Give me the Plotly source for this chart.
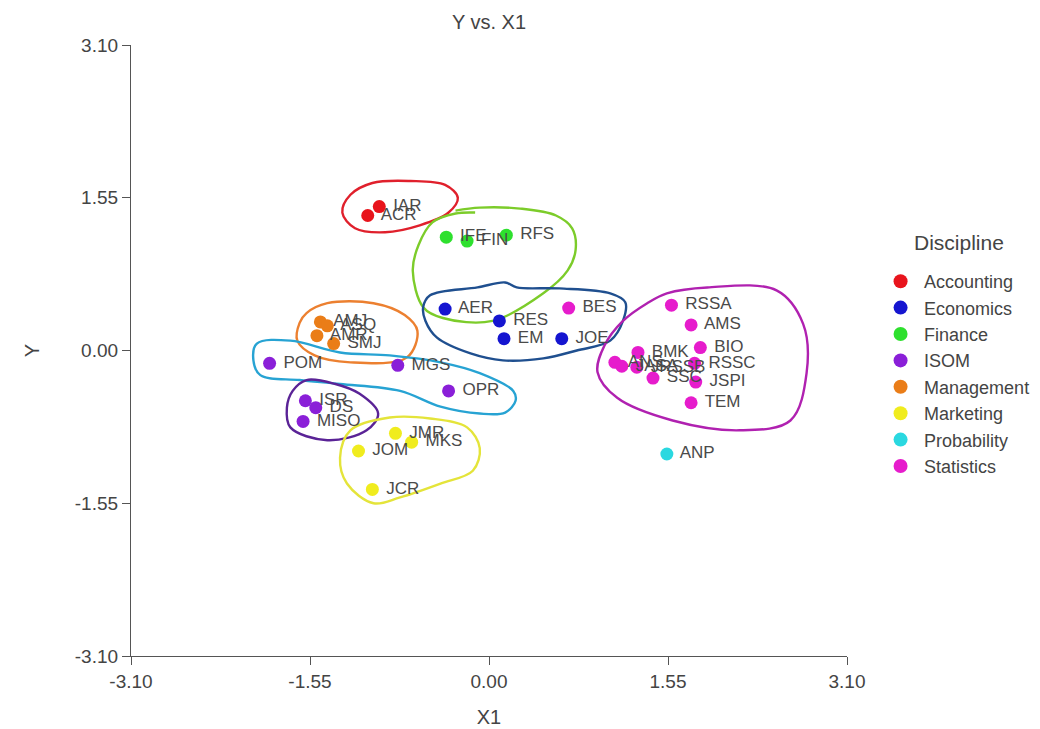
import plotly.graph_objects as go

# ---------------- data ----------------
disciplines = ["Accounting", "Economics", "Finance", "ISOM", "Management",
               "Marketing", "Probability", "Statistics"]
colors = ["#e8141c", "#1515d0", "#2ee02e", "#8a1fd8", "#ea7d18",
          "#f0ec1e", "#2ad8e0", "#e61ccc"]

acc_labels = ["ACR", "IAR"]
acc_x = [-1.05, -0.95]
acc_y = [1.37, 1.46]

eco_labels = ["AER", "RES", "EM", "JOE"]
eco_x = [-0.38, 0.09, 0.13, 0.63]
eco_y = [0.42, 0.30, 0.12, 0.12]

fin_labels = ["IFE", "FIN", "RFS"]
fin_x = [-0.37, -0.19, 0.15]
fin_y = [1.15, 1.11, 1.17]

isom_labels = ["POM", "MGS", "OPR", "ISR", "DS", "MISO"]
isom_x = [-1.90, -0.79, -0.35, -1.59, -1.50, -1.61]
isom_y = [-0.13, -0.15, -0.41, -0.51, -0.58, -0.72]

man_labels = ["AMJ", "ASQ", "AMR", "SMJ"]
man_x = [-1.46, -1.40, -1.49, -1.345]
man_y = [0.29, 0.25, 0.15, 0.07]

mkt_labels = ["JMR", "MKS", "JOM", "JCR"]
mkt_x = [-0.81, -0.67, -1.13, -1.01]
mkt_y = [-0.84, -0.93, -1.02, -1.41]

prob_labels = ["ANP"]
prob_x = [1.54]
prob_y = [-1.05]

stat_labels = ["BES", "RSSA", "AMS", "BIO", "RSSC", "JSPI", "TEM", "BMK",
               "ANS", "JASA", "JRSSB", "SSC"]
stat_x = [0.69, 1.58, 1.75, 1.83, 1.78, 1.79, 1.75, 1.29, 1.09, 1.15, 1.28, 1.42]
stat_y = [0.43, 0.46, 0.26, 0.03, -0.13, -0.32, -0.53, -0.02, -0.12, -0.16, -0.17, -0.28]

groups = [
    (acc_labels, acc_x, acc_y),
    (eco_labels, eco_x, eco_y),
    (fin_labels, fin_x, fin_y),
    (isom_labels, isom_x, isom_y),
    (man_labels, man_x, man_y),
    (mkt_labels, mkt_x, mkt_y),
    (prob_labels, prob_x, prob_y),
    (stat_labels, stat_x, stat_y),
]

# hand-drawn cluster outlines (data units)
red_loop_x = [-1.27, -1.20, -1.01, -0.68, -0.38, -0.27, -0.35, -0.60, -0.90, -1.16, -1.27]
red_loop_y = [1.40, 1.58, 1.70, 1.72, 1.68, 1.55, 1.40, 1.27, 1.20, 1.24, 1.40]

green_loop_x = [-0.12, -0.29, -0.49, -0.61, -0.66, -0.57, -0.40, 0.03, 0.47, 0.68, 0.75, 0.72, 0.58, 0.27, -0.08, -0.29]
green_loop_y = [1.40, 1.39, 1.30, 1.07, 0.81, 0.44, 0.33, 0.30, 0.58, 0.81, 1.02, 1.24, 1.37, 1.44, 1.45, 1.42]

blue_loop_x = [-0.51, -0.10, 0.14, 0.24, 0.61, 1.05, 1.18, 1.16, 1.05, 0.76, 0.47, 0.12, -0.16, -0.45, -0.55, -0.57, -0.51]
blue_loop_y = [0.56, 0.64, 0.69, 0.64, 0.63, 0.58, 0.49, 0.30, 0.10, 0.00, -0.08, -0.10, -0.03, 0.13, 0.30, 0.44, 0.56]

orange_loop_x = [-1.58, -1.40, -1.00, -0.73, -0.62, -0.71, -1.20, -1.51, -1.66, -1.64, -1.58]
orange_loop_y = [0.38, 0.48, 0.48, 0.36, 0.20, -0.07, -0.12, -0.05, 0.10, 0.28, 0.38]

cyan_loop_x = [-2.01, -1.72, -1.29, -0.86, -0.42, -0.08, 0.21, 0.23, 0.14, -0.08, -0.42, -0.77, -1.29, -1.64, -1.98, -2.04, -2.01]
cyan_loop_y = [0.07, 0.10, -0.02, -0.05, -0.12, -0.23, -0.41, -0.51, -0.63, -0.64, -0.57, -0.41, -0.34, -0.30, -0.25, -0.10, 0.07]

purple_loop_x = [-1.70, -1.58, -1.33, -1.12, -0.96, -1.06, -1.40, -1.72, -1.75, -1.70]
purple_loop_y = [-0.41, -0.30, -0.34, -0.44, -0.64, -0.81, -0.91, -0.78, -0.58, -0.41]

yellow_loop_x = [-1.20, -0.86, -0.51, -0.19, -0.08, -0.14, -0.42, -0.77, -1.00, -1.23, -1.29, -1.20]
yellow_loop_y = [-0.81, -0.68, -0.69, -0.78, -0.99, -1.22, -1.35, -1.49, -1.55, -1.35, -1.09, -0.81]

magenta_loop_x = [1.37, 1.54, 1.89, 2.49, 2.72, 2.75, 2.61, 2.17, 1.59, 1.11, 0.94, 1.00, 1.16, 1.37]
magenta_loop_y = [0.48, 0.58, 0.64, 0.61, 0.27, -0.23, -0.71, -0.81, -0.71, -0.48, -0.22, 0.05, 0.30, 0.48]

loops = [
    (red_loop_x, red_loop_y, "#e0202c"),
    (green_loop_x, green_loop_y, "#7ccc2a"),
    (blue_loop_x, blue_loop_y, "#1f4f8f"),
    (orange_loop_x, orange_loop_y, "#ec8030"),
    (cyan_loop_x, cyan_loop_y, "#27a3d3"),
    (purple_loop_x, purple_loop_y, "#5a2396"),
    (yellow_loop_x, yellow_loop_y, "#e4e43a"),
    (magenta_loop_x, magenta_loop_y, "#b021b0"),
]

tick_vals = [-3.10, -1.55, 0.00, 1.55, 3.10]
tick_text = ["-3.10", "-1.55", "0.00", "1.55", "3.10"]

FONT = "Liberation Sans, Arial"
TXT = "#444444"

# ---------------- figure ----------------
fig = go.Figure()

for lx, ly, lc in loops:
    fig.add_trace(go.Scatter(x=lx, y=ly, mode="lines",
                             line=dict(color=lc, width=2.4, shape="spline", smoothing=1.0),
                             showlegend=False, hoverinfo="skip"))

for (labels, xs, ys), name, col in zip(groups, disciplines, colors):
    fig.add_trace(go.Scatter(x=xs, y=ys, mode="markers+text",
                             text=[" " + t for t in labels],
                             textposition="middle right",
                             textfont=dict(family=FONT, size=17, color="#4a4a4a"),
                             marker=dict(size=13, color=col),
                             name=name, showlegend=False))
    fig.add_trace(go.Scatter(x=[None], y=[None], mode="markers",
                             marker=dict(size=14, color=col),
                             name=name, showlegend=True))

axis_common = dict(range=[-3.10, 3.10], tickvals=tick_vals, ticktext=tick_text,
                   showgrid=False, zeroline=False, showline=True, automargin=False,
                   linecolor="#555555", linewidth=1.2, ticks="outside",
                   ticklen=8, tickcolor="#555555",
                   tickfont=dict(family=FONT, size=19, color=TXT))

fig.update_layout(
    width=1040, height=729,
    margin=dict(l=123, r=201, t=37, b=81, autoexpand=False),
    paper_bgcolor="white", plot_bgcolor="white",
    title=dict(text="Y vs. X1", x=0.5, xref="paper", y=0.9808, yref="container",
               yanchor="middle", automargin=False,
               font=dict(family=FONT, size=20, color=TXT)),
    xaxis=dict(title=dict(text="X1", standoff=19,
                          font=dict(family=FONT, size=20, color=TXT)),
               **axis_common),
    yaxis=dict(title=dict(text="Y", standoff=29,
                          font=dict(family=FONT, size=20, color=TXT)),
               **axis_common),
    legend=dict(font=dict(family=FONT, size=18, color=TXT),
                x=1.042, xanchor="left", y=0.6432, yanchor="top",
                bgcolor="rgba(0,0,0,0)", itemwidth=37, tracegroupgap=0),
    annotations=[dict(text="Discipline", xref="paper", yref="paper",
                      x=1.0908, y=0.676, xanchor="left", yanchor="middle",
                      showarrow=False, font=dict(family=FONT, size=21, color=TXT))],
    showlegend=True,
)

fig.write_html("out.html")
